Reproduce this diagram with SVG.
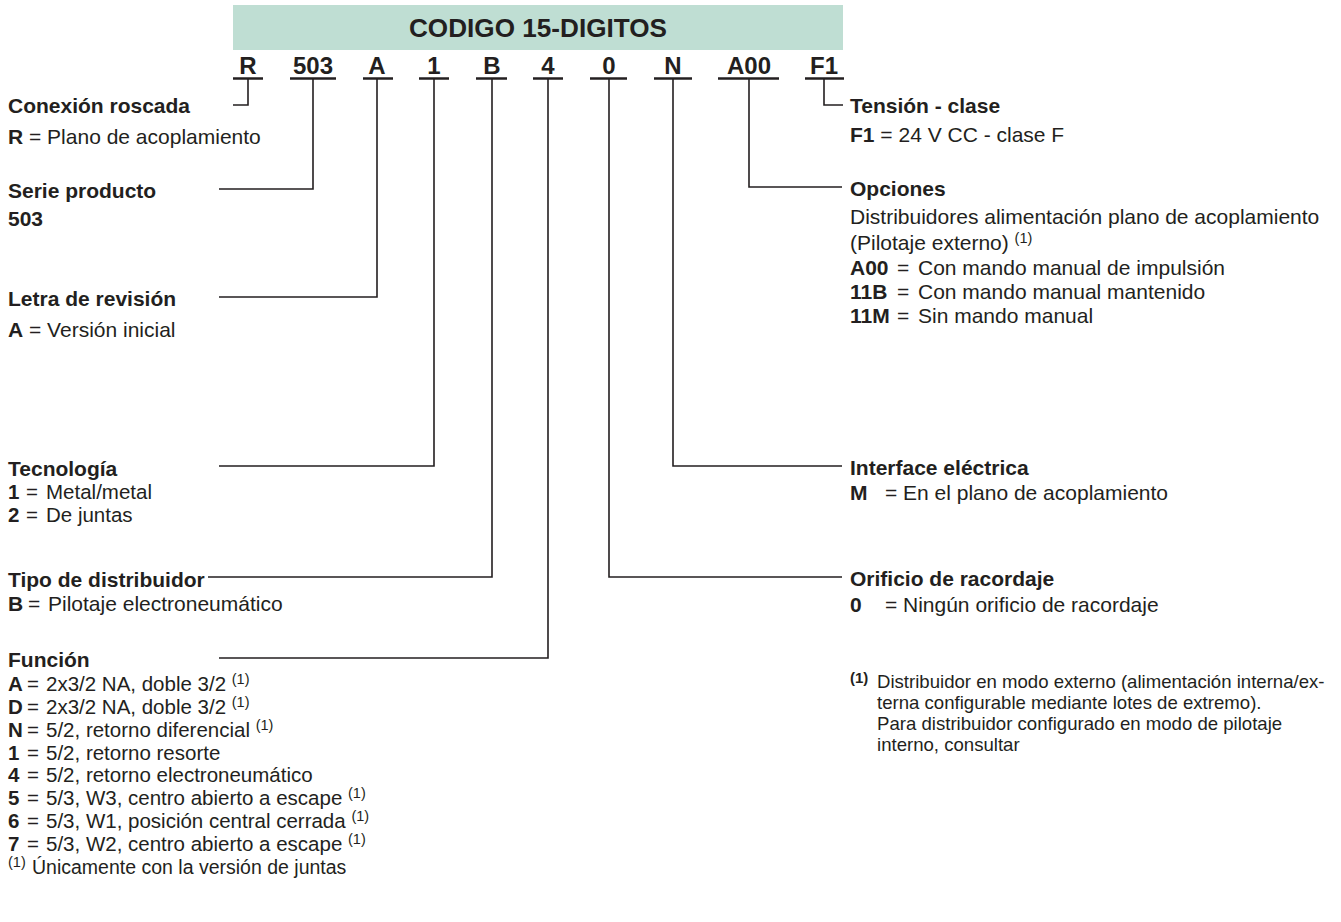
<svg xmlns="http://www.w3.org/2000/svg" width="1341" height="922" viewBox="0 0 1341 922">
<style>
text{font-family:"Liberation Sans",Arial,Helvetica,sans-serif;fill:#231f20;}
.t{font-size:21px;}
.s{font-size:20.5px;}
.f{font-size:18.6px;}
.b{font-weight:bold;}
.code{font-size:24px;font-weight:bold;text-anchor:middle;}
.sup{font-size:14.5px;font-weight:normal;}
.ul{stroke:#231f20;stroke-width:2.5;fill:none;}
.cn{stroke:#231f20;stroke-width:1.6;fill:none;}
</style>
<rect width="1341" height="922" fill="#ffffff"/>
<g id="banner">
<rect x="233" y="5" width="610" height="45" fill="#bfded3"/>
<text x="538" y="37" font-size="25" font-weight="bold" text-anchor="middle" textLength="258" lengthAdjust="spacingAndGlyphs">CODIGO 15-DIGITOS</text>
</g>
<g id="code-row">
<g id="c-R"><text class="code" x="248" y="74">R</text><line class="ul" x1="233" y1="78.5" x2="263" y2="78.5"/></g>
<g id="c-503"><text class="code" x="313" y="74">503</text><line class="ul" x1="290" y1="78.5" x2="336" y2="78.5"/></g>
<g id="c-A"><text class="code" x="377" y="74">A</text><line class="ul" x1="363" y1="78.5" x2="393" y2="78.5"/></g>
<g id="c-1"><text class="code" x="434" y="74">1</text><line class="ul" x1="419" y1="78.5" x2="449" y2="78.5"/></g>
<g id="c-B"><text class="code" x="492" y="74">B</text><line class="ul" x1="476" y1="78.5" x2="507" y2="78.5"/></g>
<g id="c-4"><text class="code" x="548" y="74">4</text><line class="ul" x1="533" y1="78.5" x2="563" y2="78.5"/></g>
<g id="c-0"><text class="code" x="609" y="74">0</text><line class="ul" x1="590" y1="78.5" x2="627" y2="78.5"/></g>
<g id="c-N"><text class="code" x="673" y="74">N</text><line class="ul" x1="654" y1="78.5" x2="692" y2="78.5"/></g>
<g id="c-A00"><text class="code" x="749" y="74">A00</text><line class="ul" x1="718" y1="78.5" x2="779" y2="78.5"/></g>
<g id="c-F1"><text class="code" x="824" y="74">F1</text><line class="ul" x1="805" y1="78.5" x2="844" y2="78.5"/></g>
</g>
<g id="connectors">
<path class="cn" d="M248,79 V105 H233"/>
<path class="cn" d="M313,79 V189 H219"/>
<path class="cn" d="M377,79 V297 H219"/>
<path class="cn" d="M434,79 V466 H219"/>
<path class="cn" d="M492,79 V577 H208"/>
<path class="cn" d="M548,79 V658 H219"/>
<path class="cn" d="M609,79 V577 H842"/>
<path class="cn" d="M673,79 V466 H842"/>
<path class="cn" d="M749,79 V187 H842"/>
<path class="cn" d="M824,79 V105 H843"/>
</g>
<g id="conexion">
<text class="t b" x="8" y="113">Conexión roscada</text>
<text class="t" x="8" y="144"><tspan class="b">R</tspan> = Plano de acoplamiento</text>
</g>
<g id="serie">
<text class="t b" x="8" y="198">Serie producto</text>
<text class="t b" x="8" y="226">503</text>
</g>
<g id="letra">
<text class="t b" x="8" y="306">Letra de revisión</text>
<text class="t" x="8" y="337"><tspan class="b">A</tspan> = Versión inicial</text>
</g>
<g id="tecnologia">
<text class="t b" x="8" y="476">Tecnología</text>
<text class="s" y="499"><tspan class="b" x="8">1</tspan><tspan x="26">=</tspan><tspan x="46">Metal/metal</tspan></text>
<text class="s" y="522"><tspan class="b" x="8">2</tspan><tspan x="26">=</tspan><tspan x="46">De juntas</tspan></text>
</g>
<g id="tipo">
<text class="t b" x="8" y="587">Tipo de distribuidor</text>
<text class="t" y="611"><tspan class="b" x="8">B</tspan><tspan x="28">=</tspan><tspan x="48">Pilotaje electroneumático</tspan></text>
</g>
<g id="funcion">
<text class="t b" x="8" y="667">Función</text>
<text class="s" y="691"><tspan class="b" x="8">A</tspan><tspan x="27">=</tspan><tspan x="46">2x3/2 NA, doble 3/2 </tspan><tspan class="sup" dy="-7">(1)</tspan></text>
<text class="s" y="714"><tspan class="b" x="8">D</tspan><tspan x="27">=</tspan><tspan x="46">2x3/2 NA, doble 3/2 </tspan><tspan class="sup" dy="-7">(1)</tspan></text>
<text class="s" y="737"><tspan class="b" x="8">N</tspan><tspan x="27">=</tspan><tspan x="46">5/2, retorno diferencial </tspan><tspan class="sup" dy="-7">(1)</tspan></text>
<text class="s" y="760"><tspan class="b" x="8">1</tspan><tspan x="27">=</tspan><tspan x="46">5/2, retorno resorte</tspan></text>
<text class="s" y="782"><tspan class="b" x="8">4</tspan><tspan x="27">=</tspan><tspan x="46">5/2, retorno electroneumático</tspan></text>
<text class="s" y="805"><tspan class="b" x="8">5</tspan><tspan x="27">=</tspan><tspan x="46">5/3, W3, centro abierto a escape </tspan><tspan class="sup" dy="-7">(1)</tspan></text>
<text class="s" y="828"><tspan class="b" x="8">6</tspan><tspan x="27">=</tspan><tspan x="46">5/3, W1, posición central cerrada </tspan><tspan class="sup" dy="-7">(1)</tspan></text>
<text class="s" y="851"><tspan class="b" x="8">7</tspan><tspan x="27">=</tspan><tspan x="46">5/3, W2, centro abierto a escape </tspan><tspan class="sup" dy="-7">(1)</tspan></text>
<text class="s" y="874"><tspan class="sup" x="8" dy="-7">(1)</tspan><tspan x="32" dy="7" font-size="19.5">Únicamente con la versión de juntas</tspan></text>
</g>
<g id="tension">
<text class="t b" x="850" y="113">Tensión - clase</text>
<text class="t" x="850" y="142"><tspan class="b">F1</tspan> = 24 V CC - clase F</text>
</g>
<g id="opciones">
<text class="t b" x="850" y="196">Opciones</text>
<text class="t" x="850" y="224" font-size="21.5">Distribuidores alimentación plano de acoplamiento</text>
<text class="t" x="850" y="250">(Pilotaje externo) <tspan class="sup" dy="-7">(1)</tspan></text>
<text class="t" y="275"><tspan class="b" x="850">A00</tspan><tspan x="897">=</tspan><tspan x="918">Con mando manual de impulsión</tspan></text>
<text class="t" y="299"><tspan class="b" x="850">11B</tspan><tspan x="897">=</tspan><tspan x="918">Con mando manual mantenido</tspan></text>
<text class="t" y="323"><tspan class="b" x="850">11M</tspan><tspan x="897">=</tspan><tspan x="918">Sin mando manual</tspan></text>
</g>
<g id="interface">
<text class="t b" x="850" y="475">Interface eléctrica</text>
<text class="t" y="500"><tspan class="b" x="850">M</tspan><tspan x="885">=</tspan><tspan x="903">En el plano de acoplamiento</tspan></text>
</g>
<g id="orificio">
<text class="t b" x="850" y="586">Orificio de racordaje</text>
<text class="t" y="612"><tspan class="b" x="850">0</tspan><tspan x="885">=</tspan><tspan x="903">Ningún orificio de racordaje</tspan></text>
</g>
<g id="nota">
<text class="f" y="688"><tspan class="b" x="850" font-size="15" dy="-5">(1)</tspan><tspan x="877" dy="5">Distribuidor en modo externo (alimentación interna/ex-</tspan></text>
<text class="f" x="877" y="709">terna configurable mediante lotes de extremo).</text>
<text class="f" x="877" y="730">Para distribuidor configurado en modo de pilotaje</text>
<text class="f" x="877" y="751">interno, consultar</text>
</g>
</svg>
